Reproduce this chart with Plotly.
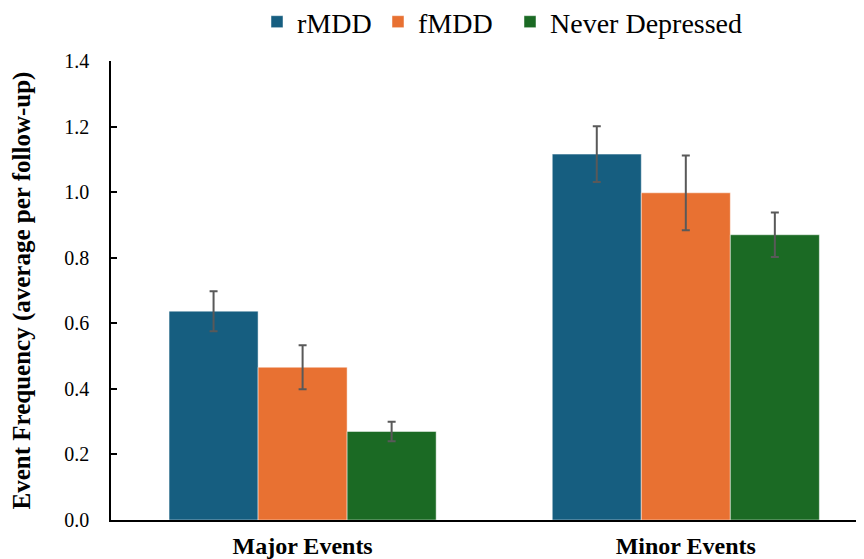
import plotly.graph_objects as go

categories = ["Major Events", "Minor Events"]
groups = ["rMDD", "fMDD", "Never Depressed"]
rmdd_vals = [0.637, 1.116]
rmdd_err = [0.061, 0.085]
fmdd_vals = [0.466, 0.998]
fmdd_err = [0.067, 0.114]
never_vals = [0.270, 0.870]
never_err = [0.030, 0.068]
y_ticks = [0.0, 0.2, 0.4, 0.6, 0.8, 1.0, 1.2, 1.4]
y_title = "Event Frequency (average per follow-up)"

colors = ["#165E80", "#E87132", "#1B6A24"]
series = [(rmdd_vals, rmdd_err), (fmdd_vals, fmdd_err), (never_vals, never_err)]
legend_ids = ["legend", "legend2", "legend3"]
legend_x = [0.1939, 0.3546, 0.5299]

FONT = "Liberation Serif"
fig = go.Figure()
for name, (vals, errs), col, lid in zip(groups, series, colors, legend_ids):
    fig.add_trace(go.Bar(
        x=categories, y=vals, name=name, legend=lid,
        marker=dict(color=col, line=dict(color="rgba(255,255,255,0.6)", width=0.8)),
        error_y=dict(type="data", array=errs, visible=True, color="#595959",
                     thickness=2, width=4),
    ))

legend_common = dict(orientation="h", xanchor="left", y=1.085, yanchor="middle",
                     font=dict(family=FONT, size=28, color="black"),
                     bgcolor="rgba(0,0,0,0)")

fig.update_layout(
    width=856, height=551,
    margin=dict(l=103, r=0, t=53, b=39, autoexpand=False),
    paper_bgcolor="white", plot_bgcolor="white",
    barmode="group", bargap=0.303, bargroupgap=0,
    font=dict(family=FONT, color="black"),
    showlegend=True,
    legend=dict(x=legend_x[0], **legend_common),
    legend2=dict(x=legend_x[1], **legend_common),
    legend3=dict(x=legend_x[2], **legend_common),
    xaxis=dict(range=[-0.5, 1.465], showline=True, linecolor="black", linewidth=2,
               ticks="", showgrid=False, zeroline=False, ticklabelstandoff=3,
               tickfont=dict(family=FONT, size=24, color="black", weight="bold")),
    yaxis=dict(range=[0, 1.4], tickvals=y_ticks, ticktext=[f"{v:.1f}" for v in y_ticks],
               showline=True, linecolor="black", linewidth=1.5,
               ticks="inside", ticklen=6, tickwidth=1.5, tickcolor="black",
               showgrid=False, zeroline=False, ticklabelstandoff=16,
               tickfont=dict(family=FONT, size=20, color="black")),
    annotations=[dict(text=f"<b>{y_title}</b>", xref="paper", yref="paper",
                      x=0, y=0.5, xanchor="center", yanchor="middle", xshift=-90,
                      textangle=-90, showarrow=False,
                      font=dict(family=FONT, size=25, color="black"))],
)

fig.write_html("out.html")
